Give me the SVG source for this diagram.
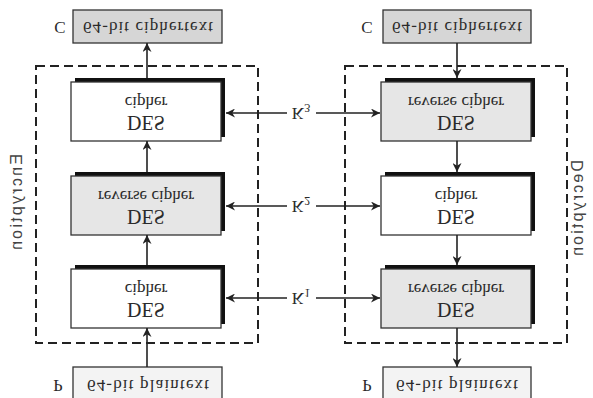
<svg xmlns="http://www.w3.org/2000/svg" width="593" height="398" viewBox="0 0 593 398">
<defs>
<marker id="ah" viewBox="0 0 10 10" refX="10" refY="5" markerWidth="9" markerHeight="9" markerUnits="userSpaceOnUse" orient="auto"><path d="M0,0 L10,5 L0,10 L3,5 Z" fill="#222"/></marker>
<style>
.t{font-family:"Liberation Serif","Times New Roman",serif;fill:#2a2a2a;text-anchor:middle;dominant-baseline:central}
.v{font-family:"Liberation Sans",Arial,sans-serif;fill:#444;text-anchor:middle;dominant-baseline:central}
.box{stroke:#333;stroke-width:1.3}
.sh{fill:#111}
.w{fill:#fff}
.g{fill:#e6e6e6}
.c{fill:#d6d6d6}
.p{fill:#f3f3f3}
.dash{fill:none;stroke:#222;stroke-width:2;stroke-dasharray:9 5}
.ln{fill:none;stroke:#222;stroke-width:1.6}
</style>
</defs>
<rect width="593" height="398" fill="#fff"/>
<g id="encryption-frame"><rect class="dash" x="36" y="66" width="222" height="277"/><text class="v" font-size="16" textLength="96" transform="translate(16,202) scale(1,-1) rotate(-90)">Encryption</text></g>
<g id="decryption-frame"><rect class="dash" x="345" y="66" width="222" height="277"/><text class="v" font-size="16" textLength="96" transform="translate(577,208) scale(1,-1) rotate(-90)">Decryption</text></g>
<g id="enc-ciphertext"><rect class="box c" x="73" y="10" width="149" height="33"/><text class="t" font-size="17" textLength="130" transform="translate(148,27) scale(1,-1)">64-bit ciphertext</text><text class="t" font-size="17" transform="translate(60,27) scale(1,-1)">C</text></g>
<g id="dec-ciphertext"><rect class="box c" x="383" y="10" width="148" height="33"/><text class="t" font-size="17" textLength="130" transform="translate(457,27) scale(1,-1)">64-bit ciphertext</text><text class="t" font-size="17" transform="translate(367,27) scale(1,-1)">C</text></g>
<g id="enc-des3"><rect class="sh" x="75" y="78" width="150" height="59"/><rect class="box w" x="71" y="82" width="150" height="59"/><text class="t" font-size="17" transform="translate(146,102) scale(1,-1)">cipher</text><text class="t" font-size="20" transform="translate(146,123) scale(1,-1)">DES</text></g>
<g id="enc-des2"><rect class="sh" x="75" y="172" width="150" height="59"/><rect class="box g" x="71" y="176" width="150" height="59"/><text class="t" font-size="17" transform="translate(146,196) scale(1,-1)">reverse cipher</text><text class="t" font-size="20" transform="translate(146,217) scale(1,-1)">DES</text></g>
<g id="enc-des1"><rect class="sh" x="75" y="265" width="150" height="59"/><rect class="box w" x="71" y="269" width="150" height="59"/><text class="t" font-size="17" transform="translate(146,289) scale(1,-1)">cipher</text><text class="t" font-size="20" transform="translate(146,310) scale(1,-1)">DES</text></g>
<g id="dec-des3"><rect class="sh" x="385" y="78" width="150" height="59"/><rect class="box g" x="381" y="82" width="150" height="59"/><text class="t" font-size="17" transform="translate(456,102) scale(1,-1)">reverse cipher</text><text class="t" font-size="20" transform="translate(456,123) scale(1,-1)">DES</text></g>
<g id="dec-des2"><rect class="sh" x="385" y="172" width="150" height="59"/><rect class="box w" x="381" y="176" width="150" height="59"/><text class="t" font-size="17" transform="translate(456,196) scale(1,-1)">cipher</text><text class="t" font-size="20" transform="translate(456,217) scale(1,-1)">DES</text></g>
<g id="dec-des1"><rect class="sh" x="385" y="265" width="150" height="59"/><rect class="box g" x="381" y="269" width="150" height="59"/><text class="t" font-size="17" transform="translate(456,289) scale(1,-1)">reverse cipher</text><text class="t" font-size="20" transform="translate(456,310) scale(1,-1)">DES</text></g>
<g id="enc-plaintext"><rect class="box p" x="73" y="367" width="149" height="40"/><text class="t" font-size="17" textLength="122" transform="translate(148,385) scale(1,-1)">64-bit plaintext</text><text class="t" font-size="17" transform="translate(58,385) scale(1,-1)">P</text></g>
<g id="dec-plaintext"><rect class="box p" x="383" y="367" width="148" height="40"/><text class="t" font-size="17" textLength="122" transform="translate(457,385) scale(1,-1)">64-bit plaintext</text><text class="t" font-size="17" transform="translate(367,385) scale(1,-1)">P</text></g>
<g id="connectors">
<line class="ln" x1="147" y1="367" x2="147" y2="328" marker-end="url(#ah)"/>
<line class="ln" x1="147" y1="265" x2="147" y2="235" marker-end="url(#ah)"/>
<line class="ln" x1="147" y1="172" x2="147" y2="141" marker-end="url(#ah)"/>
<line class="ln" x1="147" y1="78" x2="147" y2="43" marker-end="url(#ah)"/>
<line class="ln" x1="457" y1="43" x2="457" y2="78" marker-end="url(#ah)"/>
<line class="ln" x1="457" y1="141" x2="457" y2="172" marker-end="url(#ah)"/>
<line class="ln" x1="457" y1="235" x2="457" y2="265" marker-end="url(#ah)"/>
<line class="ln" x1="457" y1="328" x2="457" y2="367" marker-end="url(#ah)"/>
<line class="ln" x1="287" y1="113" x2="226" y2="113" marker-end="url(#ah)"/>
<line class="ln" x1="316" y1="113" x2="380" y2="113" marker-end="url(#ah)"/>
<line class="ln" x1="287" y1="206" x2="226" y2="206" marker-end="url(#ah)"/>
<line class="ln" x1="316" y1="206" x2="380" y2="206" marker-end="url(#ah)"/>
<line class="ln" x1="287" y1="298" x2="226" y2="298" marker-end="url(#ah)"/>
<line class="ln" x1="316" y1="298" x2="380" y2="298" marker-end="url(#ah)"/>
<text class="t" font-size="17" transform="translate(301,113) scale(1,-1)">K<tspan font-size="12" dy="5">3</tspan></text>
<text class="t" font-size="17" transform="translate(301,206) scale(1,-1)">K<tspan font-size="12" dy="5">2</tspan></text>
<text class="t" font-size="17" transform="translate(301,298) scale(1,-1)">K<tspan font-size="12" dy="5">1</tspan></text>
</g>
</svg>
